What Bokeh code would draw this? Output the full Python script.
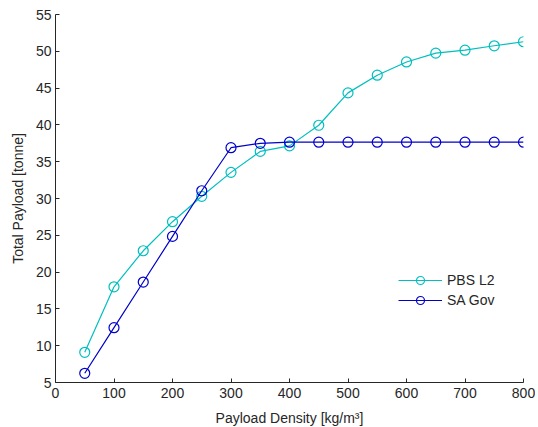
from bokeh.plotting import figure
from bokeh.models import FixedTicker, Legend, LegendItem, Range1d
from bokeh.embed import file_html
from bokeh.resources import INLINE

density = [50, 100, 150, 200, 250, 300, 350, 400, 450, 500, 550, 600, 650, 700, 750, 800]
pbs_l2 = [9.1, 18.0, 22.9, 26.85, 30.3, 33.55, 36.4, 37.15, 39.95, 44.35, 46.75, 48.55, 49.75, 50.15, 50.75, 51.3]
sa_gov = [6.25, 12.45, 18.65, 24.85, 31.05, 36.9, 37.5, 37.65, 37.65, 37.65, 37.65, 37.65, 37.65, 37.65, 37.65, 37.65]
x_ticks = [0, 100, 200, 300, 400, 500, 600, 700, 800]
y_ticks = [5, 10, 15, 20, 25, 30, 35, 40, 45, 50, 55]

CYAN = "#00BFBF"
BLUE = "#0000CC"
FONT = "Liberation Sans"
TXT = "#262626"

p = figure(frame_width=468, frame_height=368, output_backend="svg", toolbar_location=None,
           x_range=Range1d(0, 800), y_range=Range1d(5, 55),
           min_border_left=55, min_border_right=12, min_border_top=14, min_border_bottom=42)
p.outline_line_color = None
p.xgrid.visible = False
p.ygrid.visible = False

r1l = p.line(density, pbs_l2, line_color=CYAN, line_width=1.2)
r1m = p.scatter(density, pbs_l2, marker="circle", size=10, line_color=CYAN, fill_color=None, line_width=1.2)
r2l = p.line(density, sa_gov, line_color=BLUE, line_width=1.2)
r2m = p.scatter(density, sa_gov, marker="circle", size=10, line_color=BLUE, fill_color=None, line_width=1.2)

for ax, ticks in ((p.xaxis[0], x_ticks), (p.yaxis[0], y_ticks)):
    ax.ticker = FixedTicker(ticks=ticks)
    ax.minor_tick_line_color = None
    ax.major_tick_in = 4
    ax.major_tick_out = 0
    ax.axis_line_color = TXT
    ax.major_tick_line_color = TXT
    ax.major_label_text_font = FONT
    ax.major_label_text_font_size = "14px"
    ax.major_label_text_color = TXT
    ax.axis_label_text_font = FONT
    ax.axis_label_text_font_size = "14px"
    ax.axis_label_text_font_style = "normal"
    ax.axis_label_text_color = TXT

p.xaxis.axis_label = "Payload Density [kg/m³]"
p.yaxis.axis_label = "Total Payload [tonne]"
p.xaxis.major_label_standoff = 5
p.yaxis.major_label_standoff = 4
p.xaxis.axis_label_standoff = 9
p.yaxis.axis_label_standoff = 7

legend = Legend(items=[LegendItem(label="PBS L2", renderers=[r1l, r1m]),
                       LegendItem(label="SA Gov", renderers=[r2l, r2m])],
                location=(343, 72), padding=0, spacing=0, margin=0,
                glyph_width=44, glyph_height=20, label_standoff=5,
                border_line_alpha=0, background_fill_alpha=0,
                label_text_font=FONT, label_text_font_size="14px", label_text_color=TXT)
p.add_layout(legend)

open("out.html", "w").write(file_html(p, INLINE))
